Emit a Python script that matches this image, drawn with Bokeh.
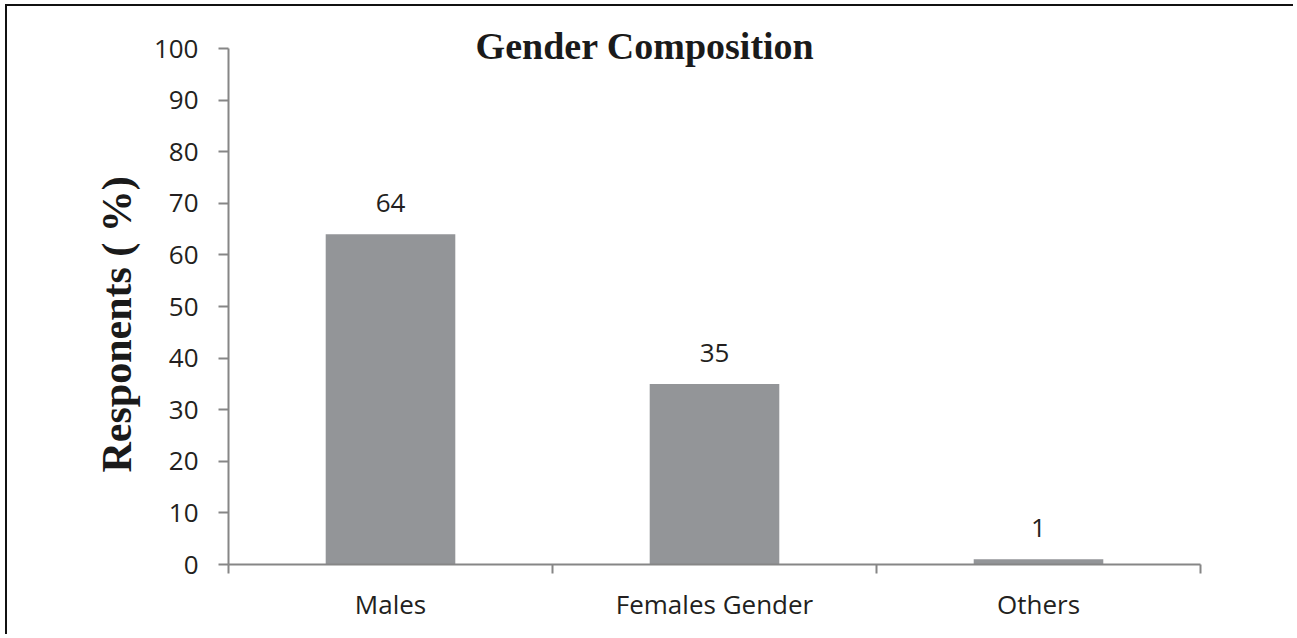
from bokeh.plotting import figure
from bokeh.models import ColumnDataSource, FixedTicker, Label, Range1d, Title
from bokeh.core.properties import value
from bokeh.embed import file_html
from bokeh.resources import INLINE

categories = ["Males", "Females Gender", "Others"]
percent = [64, 35, 1]
y_ticks = [0, 10, 20, 30, 40, 50, 60, 70, 80, 90, 100]

positions = [i + 0.5 for i in range(len(categories))]
boundaries = [i for i in range(len(categories) + 1)]

src = ColumnDataSource(dict(x=positions, top=percent, lab=[str(v) for v in percent]))

p = figure(width=1288, height=630, output_backend="svg", toolbar_location=None,
           x_range=Range1d(0, len(categories)), y_range=Range1d(0, 107),
           min_border_left=221, min_border_right=95, min_border_top=6, min_border_bottom=72)
p.styles = {"border-left": "2px solid #111", "border-top": "2px solid #111",
            "margin-left": "5px", "margin-top": "4px"}
p.outline_line_color = None
p.xgrid.visible = False
p.ygrid.visible = False
p.background_fill_color = "white"
p.border_fill_color = "white"

p.vbar(x="x", top="top", width=0.4, source=src, fill_color="#939598", line_color=None)
p.text(x="x", y="top", text="lab", source=src, text_align="center", text_baseline="alphabetic",
       y_offset=-31, text_font=value("Open Sans"), text_font_size="26px", text_color="#231f20")

axis_col = "#868686"
lab_col = "#231f20"

xa = p.xaxis[0]
xa.ticker = FixedTicker(ticks=positions, minor_ticks=boundaries)
xa.major_label_overrides = {pos: c for pos, c in zip(positions, categories)}
xa.major_tick_line_color = None
xa.major_tick_out = 0
xa.major_tick_in = 0
xa.minor_tick_line_color = axis_col
xa.minor_tick_line_width = 2
xa.minor_tick_out = 9
xa.minor_tick_in = 0
xa.axis_line_color = axis_col
xa.axis_line_width = 2
xa.major_label_text_font = "Open Sans"
xa.major_label_text_font_size = "26px"
xa.major_label_text_color = lab_col
xa.major_label_standoff = 12

ya = p.yaxis[0]
ya.ticker = FixedTicker(ticks=y_ticks, minor_ticks=[])
ya.bounds = (0, 100)
ya.major_tick_line_color = axis_col
ya.major_tick_line_width = 2
ya.major_tick_out = 10
ya.major_tick_in = 0
ya.minor_tick_line_color = None
ya.axis_line_color = axis_col
ya.axis_line_width = 2
ya.major_label_text_font = "Open Sans"
ya.major_label_text_font_size = "26px"
ya.major_label_text_color = lab_col
ya.major_label_standoff = 20

title = Label(x=1.2855, y=100.6, text="Gender Composition", text_align="center",
              text_baseline="alphabetic", text_font="Liberation Serif", text_font_style="bold",
              text_font_size="38px", text_color="#1a1a1a")
p.add_layout(title)

ylab = Title(text="Responents ( %)", align="left", offset=92, vertical_align="middle",
             text_font="Liberation Serif", text_font_style="bold", text_font_size="42px",
             text_color="#1a1a1a", standoff=20)
p.add_layout(ylab, "left")

open("out.html", "w").write(file_html(p, INLINE))
